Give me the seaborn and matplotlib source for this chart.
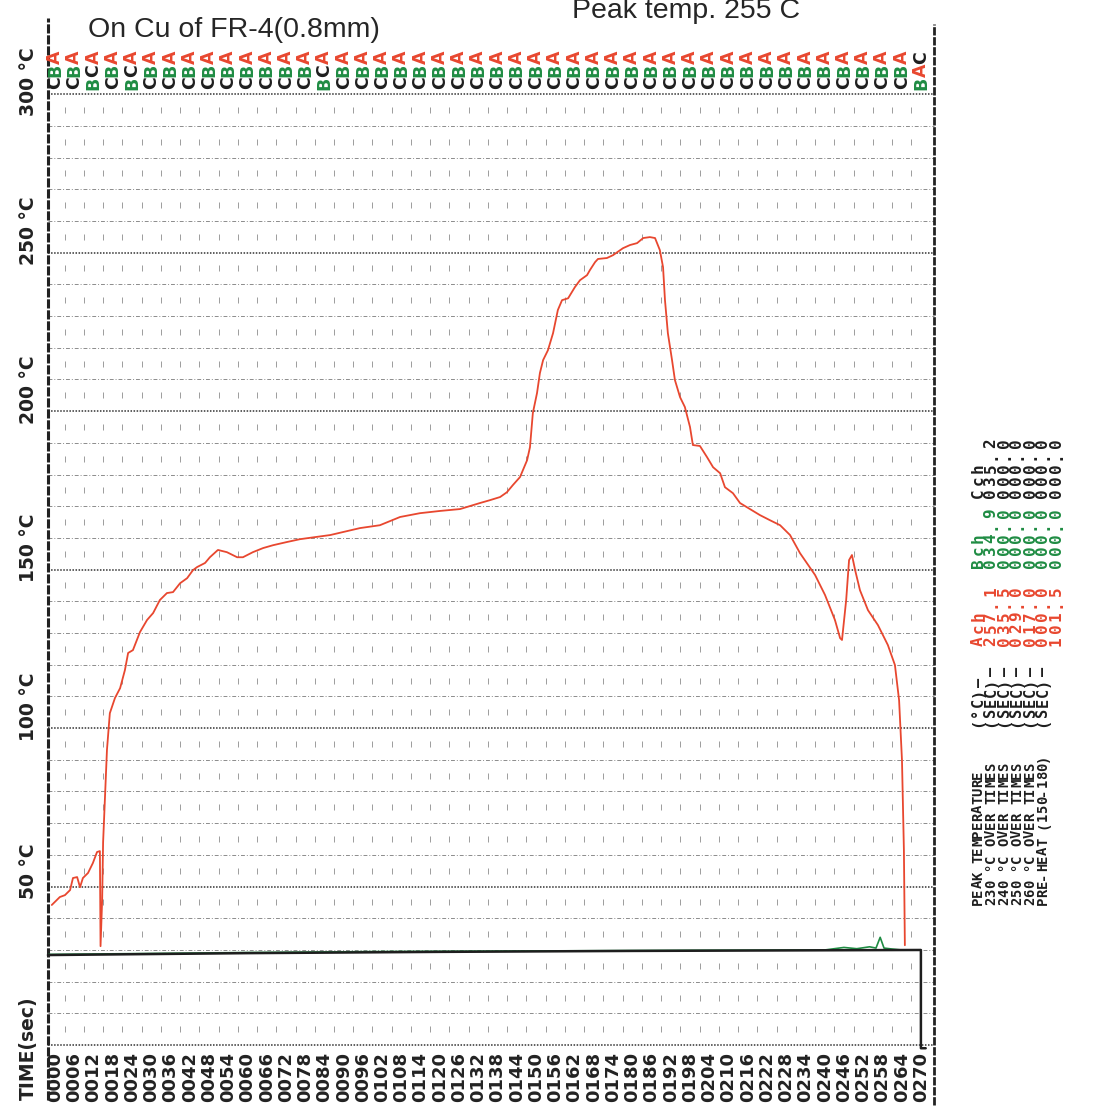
import matplotlib
matplotlib.use("Agg")
import numpy as np
import pandas as pd
import matplotlib.pyplot as plt
import seaborn as sns

# ---------------- data ----------------
time_ticks = list(range(0, 271, 6))
temp_major = [50, 100, 150, 200, 250, 300]
temp_labels = ["50 °C", "100 °C", "150 °C", "200 °C", "250 °C", "300 °C"]

# channel A (red) - thermocouple on Cu of FR-4
ach_time = [-1.0, 1.5, 3.1, 4.7, 5.6, 6.9, 7.8, 8.7, 10.3, 11.8, 13.1, 14.0,
            14.2, 14.7, 15.0, 16.2, 17.1, 18.7, 20.3, 21.8, 22.8, 24.3, 26.5,
            28.7, 30.6, 32.7, 34.9, 36.8, 39.0, 41.2, 43.0, 44.3, 46.8, 48.3,
            50.8, 53.6, 56.8, 58.6, 61.7, 64.9, 68.0, 72.3, 76.4, 85.8, 95.1,
            101.3, 107.6, 113.8, 120.0, 126.3, 132.5, 135.6, 138.8, 140.9,
            142.8, 145.0, 147.2, 148.1, 149.0, 150.3, 151.2, 152.2, 153.7,
            155.3, 156.8, 158.1, 160.0, 162.1, 163.7, 165.9, 166.8, 168.4,
            169.3, 172.1, 174.0, 177.1, 179.3, 181.5, 183.4, 185.5, 187.1,
            188.6, 189.6, 190.2, 191.1, 192.4, 193.3, 194.9, 196.4, 198.0,
            198.9, 201.1, 203.3, 205.2, 207.4, 208.9, 211.4, 213.6, 219.8,
            222.9, 226.1, 229.2, 232.3, 237.0, 240.1, 243.2, 244.8, 245.4,
            246.7, 247.6, 248.5, 249.5, 251.0, 253.5, 256.6, 259.7, 261.9,
            263.2, 264.1, 264.7, 265.0]
ach_temp = [44.2, 46.7, 47.3, 48.9, 52.7, 53.0, 49.8, 52.7, 54.3, 57.4, 60.9, 61.2,
            31.2, 45.7, 64.0, 93.1, 104.7, 109.5, 112.6, 118.3, 123.7, 124.6, 130.3,
            134.1, 136.3, 140.4, 142.6, 142.9, 145.7, 147.3, 149.8, 150.8, 152.1, 153.9,
            156.2, 155.5, 153.9, 153.9, 155.5, 156.8, 157.7, 158.7, 159.6, 160.9, 163.1,
            164.0, 166.6, 167.8, 168.5, 169.1, 171.0, 171.9, 172.9, 174.4,
            176.7, 179.2, 184.5, 188.6, 199.4, 205.7, 212.0, 216.1, 219.2,
            224.6, 231.9, 235.0, 235.6, 239.1, 241.3, 242.9, 244.5, 247.0,
            248.0, 248.3, 249.2, 251.4, 252.4, 253.0, 254.6, 254.9, 254.6,
            250.8, 245.4, 235.0, 224.6, 216.1, 209.8, 204.4, 201.3, 195.0,
            189.3, 189.0, 185.5, 182.3, 180.4, 176.0, 174.1, 171.0, 167.2,
            165.6, 164.0, 160.9, 155.2, 148.3, 142.0, 134.1, 128.4, 127.8,
            140.4, 153.0, 154.6, 149.8, 143.5, 137.2, 132.5, 126.2, 119.9,
            108.8, 89.9, 61.5, 31.5]

# channel B (green)
bch_time = [-2.0, 30, 60, 100, 150, 200, 240, 246, 250, 254, 256, 257.3, 258.5, 261, 264, 268]
bch_temp = [28.6, 28.9, 29.2, 29.5, 29.7, 29.9, 30.0, 30.8, 30.4, 31.0, 30.6, 34.0, 30.6, 30.3, 30.0, 30.0]

# channel C (black)
cch_time = [-2.2, 60, 120, 180, 240, 270, 270, 271.5]
cch_temp = [28.4, 29.0, 29.4, 29.7, 29.9, 30.0, -1.0, -1.0]

# channel order printed above each time step (read bottom to top)
order_cols = ["CBA"] * 46
order_cols[2] = "BCA"
order_cols[4] = "BCA"
order_cols[14] = "BCA"
order_cols[45] = "BAC"

summary_rows = ["PEAK TEMPERATURE", "230 °C OVER TIMES", "240 °C OVER TIMES",
                "250 °C OVER TIMES", "260 °C OVER TIMES", "PRE-HEAT (150-180)"]
summary_units = ["(°C)—", "(SEC)—", "(SEC)—", "(SEC)—", "(SEC)—", "(SEC)—"]
ach_summary = ["257.1", "035.5", "029.0", "017.0", "000.0", "101.5"]
bch_summary = ["034.9", "000.0", "000.0", "000.0", "000.0", "000.0"]
cch_summary = ["035.2", "000.0", "000.0", "000.0", "000.0", "000.0"]

# ---------------- styling ----------------
sns.set_style("white")
plt.rcParams["font.family"] = ["DejaVu Sans"]

RED = "#e8472f"
GREEN = "#1f8c43"
BLACK = "#1e1e1e"
letter_colors = {"A": RED, "B": GREEN, "C": BLACK}

W, H = 1113, 1111
fig = plt.figure(figsize=(W / 100, H / 100), dpi=100)
ax = fig.add_axes([0, 0, 1, 1])

t_left, t_right = -2.2, 274.1

# recorder paper grid
tick_t = [t + 3 for t in time_ticks[:-1]]
for T in range(0, 301, 5):
    if T % 50 == 0:
        ax.hlines(T, t_left, t_right, colors="#333333", lw=1.1, linestyles=(0, (1, 1)))
    elif T % 10 == 0:
        ax.hlines(T, t_left, t_right, colors="#8c8c8c", lw=0.7, linestyles=(0, (4, 2, 1, 2)))
    else:
        ax.scatter(tick_t, [T] * len(tick_t), marker="|", s=14, lw=0.7, color="#9c9c9c")

# chart borders
ax.vlines(t_left, -17.4, 324, colors="#222222", lw=2.2, linestyles=(0, (3, 0.6)))
ax.vlines(t_right, -19.0, 322, colors="#222222", lw=2.0, linestyles=(0, (3, 0.6)))

# traces
df_a = pd.DataFrame({"time": ach_time, "temp": ach_temp})
df_b = pd.DataFrame({"time": bch_time, "temp": bch_temp})
df_c = pd.DataFrame({"time": cch_time, "temp": cch_temp})
sns.lineplot(data=df_b, x="time", y="temp", ax=ax, color=GREEN, lw=1.2,
             sort=False, estimator=None)
sns.lineplot(data=df_c, x="time", y="temp", ax=ax, color=BLACK, lw=1.8,
             sort=False, estimator=None)
sns.lineplot(data=df_a, x="time", y="temp", ax=ax, color=RED, lw=1.3,
             sort=False, estimator=None)
ax.set_xlim(-17.15, 329.9)
ax.set_ylim(-20.8, 329.7)
ax.axis("off")

# y labels (the top one is printed a little lower)
for T, lab in zip(temp_major, temp_labels):
    off = 7 if T == 300 else 4
    ax.text(-8.4, T - off, lab, rotation=90, ha="center", va="bottom",
            fontsize=13.5, fontweight="bold", color="#222222")
ax.text(-8.4, -17.4, "TIME(sec)", rotation=90, ha="center", va="bottom",
        fontsize=13.5, fontweight="bold", color="#222222")

# time labels
for t in time_ticks:
    ax.text(t, -2.2, f"{t:04d}", rotation=90, ha="center", va="top",
            fontsize=13, fontweight="bold", color="#222222")

# channel order letters
row_T = [303.5, 307.5, 311.5]
for t, col in zip(time_ticks, order_cols):
    for j, ch in enumerate(col):
        ax.text(t, row_T[j], ch, rotation=90, ha="center", va="center",
                fontsize=12.5, fontweight="bold", color=letter_colors[ch])

# titles
fig.text(88 / W, 1 - 37 / H, "On Cu of FR-4(0.8mm)", fontsize=20.5,
         family="Liberation Sans", va="baseline", ha="left")
fig.text(572 / W, 1 - 18 / H, "Peak temp. 255 C", fontsize=20.5,
         family="Liberation Sans", va="baseline", ha="left")


def vtext(x_px, y_start, s, pitch, size, color):
    # printer style text: one rotated glyph per character, reading upwards
    for k, ch in enumerate(s):
        if ch == " ":
            continue
        fig.text(x_px / W, 1 - (y_start - pitch * (k + 0.5)) / H, ch,
                 rotation=90, ha="center", va="center", color=color,
                 family="DejaVu Sans Mono", fontweight="bold", fontsize=size)


# summary block at the right
col_x = [978 + 13 * i for i in range(7)]
for i, (lab, unit) in enumerate(zip(summary_rows, summary_units)):
    vtext(col_x[i], 905, lab, 8.4, 10, BLACK)
    vtext(col_x[i], 728, unit, 10.2, 11, BLACK)
for head, vals, color, y0 in [("Ach", ach_summary, RED, 647),
                              ("Bch", bch_summary, GREEN, 569),
                              ("Cch", cch_summary, BLACK, 499)]:
    vtext(col_x[0], y0, head, 12.5, 11.5, color)
    for i, v in enumerate(vals):
        vtext(col_x[i + 1], y0, v, 12.5, 11.5, color)

fig.savefig("out.png", dpi=100, facecolor="white")
